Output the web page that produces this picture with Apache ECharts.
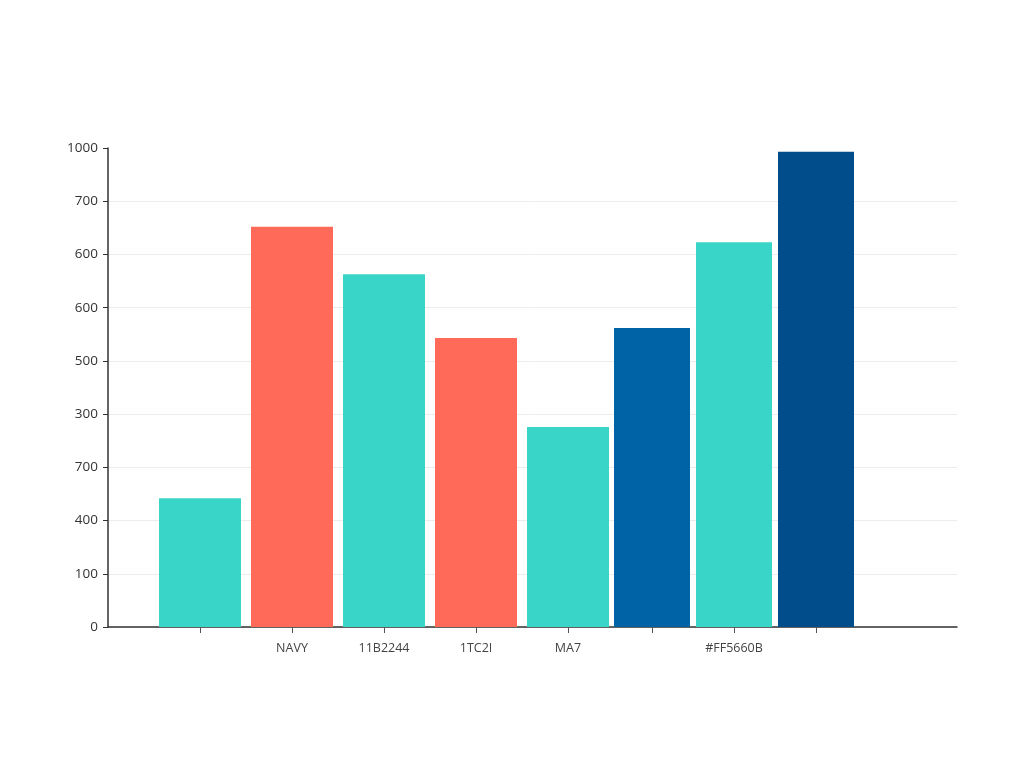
<!DOCTYPE html>
<html>
<head>
<meta charset="utf-8">
<title>Bar chart</title>
<script src="https://cdn.jsdelivr.net/npm/echarts@6/dist/echarts.min.js"></script>
<style>
    html, body { margin: 0; padding: 0; background: #fff; }
    #chart { width: 1024px; height: 768px; }
</style>
</head>
<body>
<div id="chart"></div>
<script>
// 数据
const categories = ['', 'NAVY', '11B2244', '1TC2I', 'MA7', '', '#FF5660B', ''];
const values = [242, 752, 663, 543, 376, 562, 723, 893];
const barColors = ['#38D5C8', '#FF6B58', '#38D5C8', '#FF6B58', '#38D5C8', '#0063A5', '#38D5C8', '#014D8C'];
const yTickLabels = ['0', '100', '400', '700', '300', '500', '600', '600', '700', '1000'];

// 前5根柱子间距较宽, 后3根较窄, 分两个 grid 画
const splitAt = 5;

const chart = echarts.init(document.getElementById('chart'));

const gridTop = 148, gridBottom = 141;
const labelFont = { color: '#444', fontSize: 12.5, fontFamily: 'Open Sans', margin: 15 };

function barAxis(gridIndex) {
    return {
        gridIndex, type: 'category',
        data: gridIndex === 1 ? categories.slice(0, splitAt) : categories.slice(splitAt),
        axisLine: { show: false },
        axisTick: { show: true, alignWithLabel: true, length: 6, lineStyle: { color: '#555' } },
        axisLabel: labelFont
    };
}

function hiddenY(gridIndex) {
    return { gridIndex, type: 'value', min: 0, max: 900, interval: 100, show: false };
}

function barSeries(axisIndex, from, to, width) {
    return {
        type: 'bar',
        xAxisIndex: axisIndex,
        yAxisIndex: axisIndex,
        barWidth: width,
        data: values.slice(from, to).map((v, i) => ({ value: v, itemStyle: { color: barColors[from + i] } }))
    };
}

chart.setOption({
    animation: false,
    grid: [
        { left: 108, right: 67, top: gridTop, bottom: gridBottom },
        { left: 154, right: 410, top: gridTop, bottom: gridBottom },
        { left: 611, right: 167, top: gridTop, bottom: gridBottom }
    ],
    xAxis: [
        {
            gridIndex: 0, type: 'value', min: 0, max: 1,
            axisLine: { show: true, lineStyle: { color: '#333', width: 1.5 } },
            axisTick: { show: false }, axisLabel: { show: false }, splitLine: { show: false }
        },
        barAxis(1),
        barAxis(2)
    ],
    yAxis: [
        {
            gridIndex: 0, type: 'value', min: 0, max: 900, interval: 100,
            axisLine: { show: true, lineStyle: { color: '#333', width: 1.5 } },
            axisTick: { show: true, length: 5, lineStyle: { color: '#333' } },
            axisLabel: {
                color: '#333', fontSize: 13.5, fontFamily: 'Open Sans', margin: 10,
                formatter: (v) => yTickLabels[Math.round(v / 100)]
            },
            splitLine: { show: true, showMaxLine: false, lineStyle: { color: '#ececef', width: 1 } }
        },
        hiddenY(1),
        hiddenY(2)
    ],
    series: [
        barSeries(1, 0, splitAt, 82),
        barSeries(2, splitAt, values.length, 76)
    ]
});
</script>
</body>
</html>
